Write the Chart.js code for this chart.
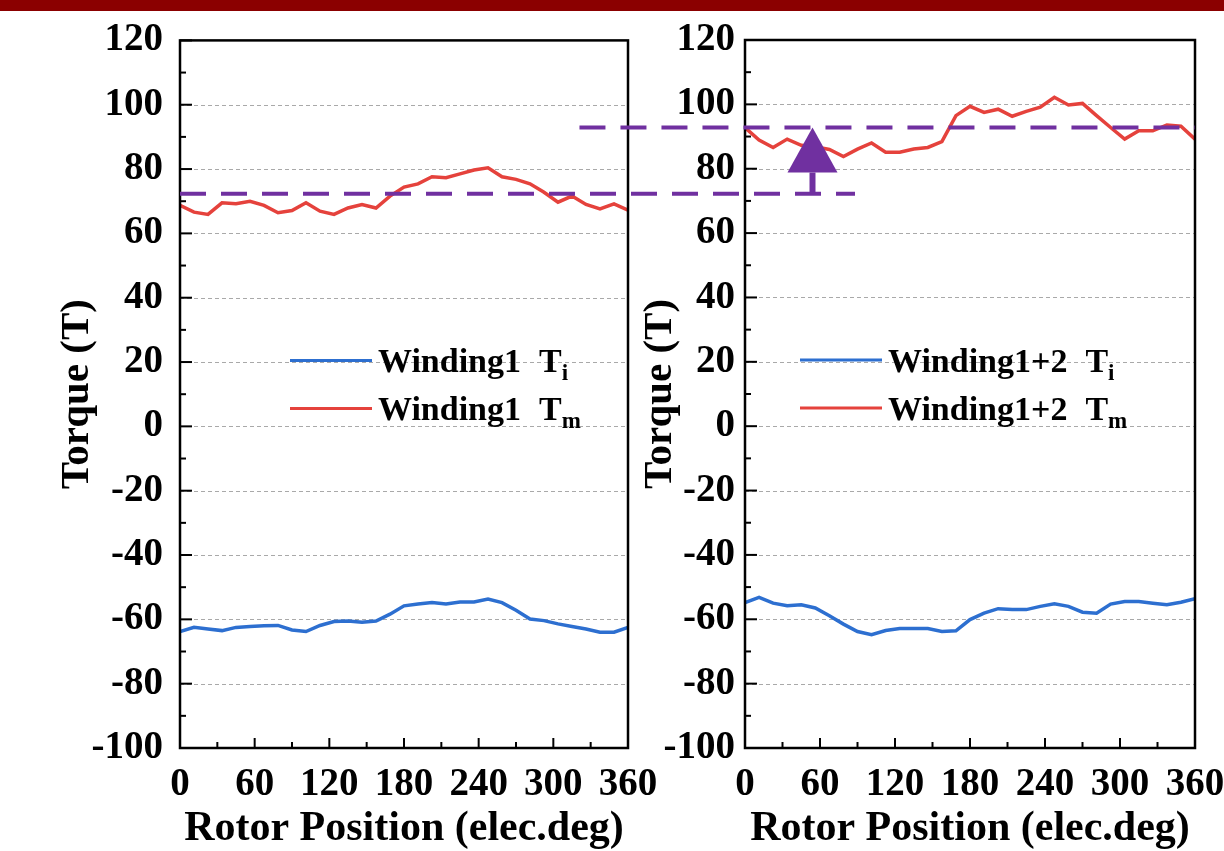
<!DOCTYPE html>
<html>
<head>
<meta charset="utf-8">
<script src="https://cdn.jsdelivr.net/npm/chart.js@4.4.1/dist/chart.umd.min.js"></script>
<style>
  html, body { margin: 0; padding: 0; background: #fff; }
  #wrap { position: relative; width: 1224px; height: 851px; overflow: hidden; }
  #topbar { position: absolute; left: 0; top: 0; width: 1224px; height: 11px; background: #8b0000; z-index: 3; }
  canvas { position: absolute; left: 0; top: 0; }
</style>
</head>
<body>
<div id="wrap">
  <div id="topbar"></div>
  <canvas id="leftChart" width="1224" height="851"></canvas>
  <canvas id="rightChart" width="1224" height="851"></canvas>
</div>
<script>
// rotor positions (elec.deg) of the samples
const positions = [0, 11.25, 22.5, 33.75, 45, 56.25, 67.5, 78.75, 90, 101.25, 112.5,
  123.75, 135, 146.25, 157.5, 168.75, 180, 191.25, 202.5, 213.75, 225, 236.25,
  247.5, 258.75, 270, 281.25, 292.5, 303.75, 315, 326.25, 337.5, 348.75, 360];

// Winding1
const tiWinding1 = [-63.8, -62.5, -63.0, -63.5, -62.5, -62.2, -62.0, -61.9, -63.3, -63.8, -61.9,
  -60.7, -60.5, -60.9, -60.5, -58.4, -55.8, -55.2, -54.8, -55.2, -54.6, -54.6,
  -53.7, -54.8, -57.2, -59.9, -60.4, -61.4, -62.2, -63.0, -64.0, -64.0, -62.5];
const tmWinding1 = [68.7, 66.6, 65.9, 69.5, 69.2, 70.0, 68.7, 66.4, 67.1, 69.5, 66.9,
  65.9, 67.9, 69.0, 67.9, 71.6, 74.4, 75.4, 77.6, 77.3, 78.5, 79.7,
  80.4, 77.6, 76.8, 75.4, 72.8, 69.7, 71.6, 69.0, 67.6, 69.2, 67.2];

// Winding1+2
const tiWinding12 = [-54.8, -53.2, -55.0, -55.8, -55.5, -56.5, -58.9, -61.5, -63.8, -64.8, -63.5,
  -62.9, -62.9, -62.9, -63.8, -63.6, -60.1, -58.1, -56.7, -57.0, -57.0, -56.0,
  -55.2, -56.0, -57.8, -58.1, -55.3, -54.5, -54.5, -55.0, -55.5, -54.7, -53.6];
const tmWinding12 = [92.8, 88.9, 86.6, 89.2, 87.3, 86.8, 86.0, 83.8, 86.1, 88.0, 85.1,
  85.1, 86.1, 86.6, 88.4, 96.5, 99.4, 97.5, 98.5, 96.3, 97.8, 99.1,
  102.2, 99.8, 100.3, 96.5, 92.8, 89.2, 91.8, 91.8, 93.6, 93.2, 89.2];

const xTicks = [0, 60, 120, 180, 240, 300, 360];
const yTicks = [-100, -80, -60, -40, -20, 0, 20, 40, 60, 80, 100, 120];

const legendLeft = ['Winding1', 'Winding1'];
const legendRight = ['Winding1+2', 'Winding1+2'];
const legendSymbol = ['T', 'T'];
const legendSubs = ['i', 'm'];

// average torque levels and the arrow between them
const levelBefore = 72.2;
const levelAfter = 92.8;
const levelBeforeEnd = 88;   // on the right chart
const levelAfterStart = 321; // on the left chart
const arrowAt = 54;          // on the right chart

const SERIF = '"Liberation Serif", "Times New Roman", serif';
const RED = '#e5423c';
const BLUE = '#2d6fd0';
const PURPLE = '#7030a0';

const pts = vals => vals.map((v, i) => ({ x: positions[i], y: v }));

const frame = {
  id: 'frame',
  beforeDatasetsDraw(chart) {
    const { ctx, chartArea: a, scales: { y } } = chart;
    ctx.save();
    ctx.strokeStyle = '#a9a9a9';
    ctx.lineWidth = 1;
    ctx.setLineDash([4, 3]);
    yTicks.forEach(v => {
      if (v === -100 || v === 120) return;
      const py = Math.round(y.getPixelForValue(v)) + 0.5;
      ctx.beginPath(); ctx.moveTo(a.left, py); ctx.lineTo(a.right, py); ctx.stroke();
    });
    ctx.restore();
  },
  afterDatasetsDraw(chart) {
    const { ctx, chartArea: a, scales: { x, y } } = chart;
    ctx.save();
    ctx.strokeStyle = '#000';
    ctx.lineWidth = 2;
    // inward ticks on left and bottom axes
    for (let v = -100; v <= 120; v += 10) {
      const py = y.getPixelForValue(v);
      const len = v % 20 === 0 ? 12 : 6;
      ctx.beginPath(); ctx.moveTo(a.left, py); ctx.lineTo(a.left + len, py); ctx.stroke();
    }
    for (let v = 0; v <= 360; v += 30) {
      const px = x.getPixelForValue(v);
      const len = v % 60 === 0 ? 10 : 6;
      ctx.beginPath(); ctx.moveTo(px, a.bottom); ctx.lineTo(px, a.bottom - len); ctx.stroke();
    }
    ctx.lineWidth = 2.5;
    ctx.strokeRect(a.left, a.top, a.right - a.left, a.bottom - a.top);
    ctx.restore();
  }
};

const sideLegend = {
  id: 'sideLegend',
  afterDatasetsDraw(chart, args, opts) {
    const { ctx, chartArea: a } = chart;
    ctx.save();
    chart.data.datasets.forEach((ds, i) => {
      const cy = a.top + opts.top + i * opts.gap;
      const x0 = a.left + opts.offset;
      ctx.strokeStyle = ds.borderColor;
      ctx.lineWidth = 3;
      ctx.beginPath(); ctx.moveTo(x0, cy); ctx.lineTo(x0 + opts.lineLen, cy); ctx.stroke();
      ctx.fillStyle = '#000';
      ctx.textBaseline = 'alphabetic';
      ctx.font = 'bold 34px ' + SERIF;
      let tx = x0 + opts.lineLen + 6;
      const base = cy + 12;
      ctx.fillText(opts.names[i], tx, base);
      tx += ctx.measureText(opts.names[i]).width + 18;
      ctx.fillText(legendSymbol[i], tx, base);
      tx += ctx.measureText(legendSymbol[i]).width;
      ctx.font = 'bold 23px ' + SERIF;
      ctx.fillText(legendSubs[i], tx, base + 8);
    });
    ctx.restore();
  }
};

function scalesFor(yWidth, titlePad, tickPad) {
  return {
    x: {
      type: 'linear', min: 0, max: 360,
      afterBuildTicks: s => { s.ticks = xTicks.map(v => ({ value: v })); },
      afterFit: s => { s.height = 103; s.paddingLeft = 0; s.paddingRight = 0; },
      grid: { display: false, drawTicks: false },
      border: { display: false },
      ticks: { color: '#000', maxRotation: 0, autoSkip: false, padding: 14, font: { family: SERIF, size: 39, weight: 'bold' } },
      title: { display: true, text: 'Rotor Position (elec.deg)', color: '#000', padding: { top: 0, bottom: -3 }, font: { family: SERIF, size: 42, weight: 'bold' } }
    },
    y: {
      min: -100, max: 120,
      afterBuildTicks: s => { s.ticks = yTicks.map(v => ({ value: v })); },
      afterFit: s => { s.width = yWidth; },
      grid: { display: false, drawTicks: false },
      border: { display: false },
      ticks: { color: '#000', padding: tickPad, font: { family: SERIF, size: 39, weight: 'bold' } },
      title: { display: true, text: 'Torque (T)', color: '#000', padding: { top: titlePad, bottom: 0 }, font: { family: SERIF, size: 41, weight: 'bold' } }
    }
  };
}

function makeChart(id, ti, tm, names, padding, yWidth, titlePad, tickPad, legendOffset, extra) {
  return new Chart(document.getElementById(id), {
    type: 'line',
    data: {
      datasets: [
        { label: names[0] + ' Ti', data: pts(ti), borderColor: BLUE, borderWidth: 3.5, pointRadius: 0, tension: 0 },
        { label: names[1] + ' Tm', data: pts(tm), borderColor: RED, borderWidth: 3.5, pointRadius: 0, tension: 0 }
      ]
    },
    options: {
      responsive: false,
      animation: false,
      layout: { padding },
      plugins: {
        legend: { display: false },
        tooltip: { enabled: false },
        sideLegend: { names, offset: legendOffset, top: 320, gap: 48, lineLen: 82 }
      },
      scales: scalesFor(yWidth, titlePad, tickPad)
    },
    plugins: [frame, sideLegend].concat(extra || [])
  });
}

const leftChart = makeChart('leftChart', tiWinding1, tmWinding1, legendLeft,
  { left: 0, right: 596, top: 40, bottom: 0 }, 180, 53, 17, 110);

const levels = {
  id: 'levels',
  afterDraw(chart) {
    const { ctx, scales: { x, y } } = chart;
    const xl = leftChart.scales.x;
    ctx.save();
    ctx.strokeStyle = PURPLE;
    ctx.lineWidth = 4;
    ctx.setLineDash([26, 15]);
    const yb = y.getPixelForValue(levelBefore);
    const ya = y.getPixelForValue(levelAfter);
    ctx.beginPath(); ctx.moveTo(xl.getPixelForValue(0), yb); ctx.lineTo(x.getPixelForValue(levelBeforeEnd), yb); ctx.stroke();
    ctx.beginPath(); ctx.moveTo(xl.getPixelForValue(levelAfterStart), ya); ctx.lineTo(x.getPixelForValue(360), ya); ctx.stroke();
    // arrow
    ctx.setLineDash([]);
    const ax = x.getPixelForValue(arrowAt);
    const headH = 45, headW = 25;
    ctx.lineWidth = 6;
    ctx.beginPath(); ctx.moveTo(ax, yb); ctx.lineTo(ax, ya + headH); ctx.stroke();
    ctx.fillStyle = PURPLE;
    ctx.beginPath();
    ctx.moveTo(ax, ya);
    ctx.lineTo(ax - headW, ya + headH);
    ctx.lineTo(ax + headW, ya + headH);
    ctx.closePath();
    ctx.fill();
    ctx.restore();
  }
};

const rightChart = makeChart('rightChart', tiWinding12, tmWinding12, legendRight,
  { left: 636, right: 29, top: 40, bottom: 0 }, 109, 0, 10, 55, [levels]);
</script>
</body>
</html>
